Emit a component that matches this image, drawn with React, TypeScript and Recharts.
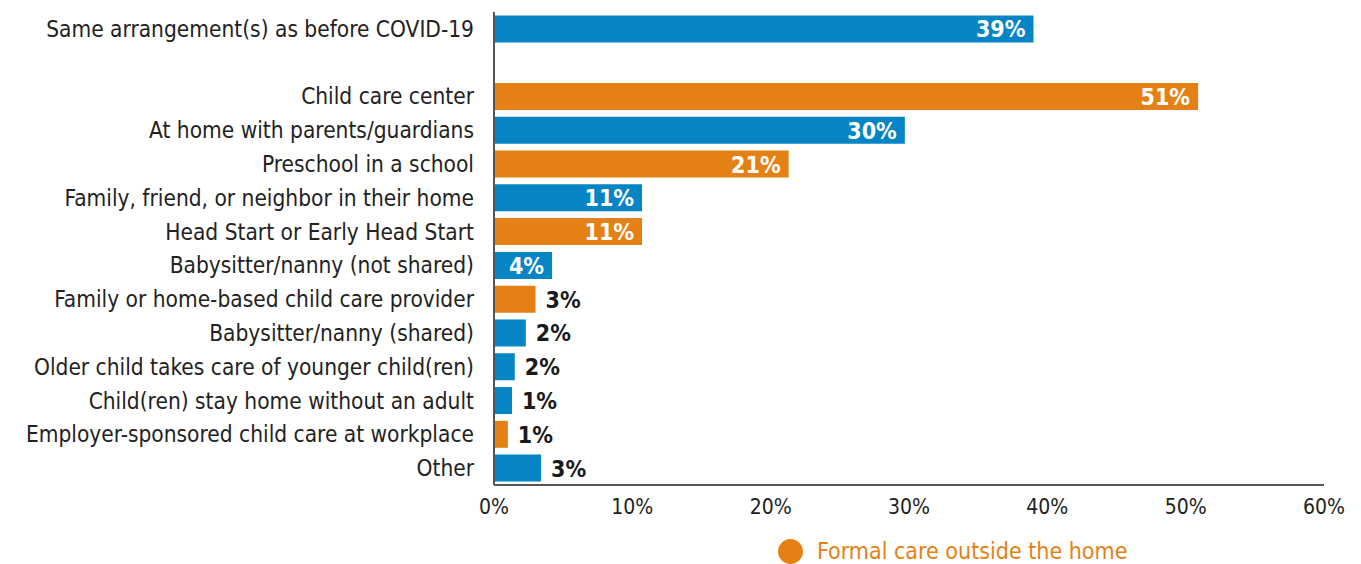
import React from 'react';
import { BarChart, Bar, XAxis, YAxis, Cell, LabelList } from 'recharts';

const categories = [
  'Same arrangement(s) as before COVID-19',
  '',
  'Child care center',
  'At home with parents/guardians',
  'Preschool in a school',
  'Family, friend, or neighbor in their home',
  'Head Start or Early Head Start',
  'Babysitter/nanny (not shared)',
  'Family or home-based child care provider',
  'Babysitter/nanny (shared)',
  'Older child takes care of younger child(ren)',
  'Child(ren) stay home without an adult',
  'Employer-sponsored child care at workplace',
  'Other',
];

const values = [39, null, 50.9, 29.7, 21.3, 10.7, 10.7, 4.2, 3.0, 2.3, 1.5, 1.3, 1.0, 3.4];

// true = formal care outside the home (orange)
const formal = [false, false, true, false, true, false, true, false, true, false, false, false, true, false];

const xTicks = [0, 10, 20, 30, 40, 50, 60];

const BLUE = '#0585c3';
const ORANGE = '#e58114';
const FONT = '"DejaVu Sans Condensed", "Liberation Sans Narrow", sans-serif';

const data = categories.map((name, i) => ({ name, value: values[i], formal: formal[i] }));

const renderLabel = (props: any) => {
  const { x, y, width, height, value } = props;
  if (value == null) return null;
  const inside = value >= 4;
  return (
    <text
      x={inside ? x + width - 8 : x + width + 10}
      y={y + height / 2 + 2}
      textAnchor={inside ? 'end' : 'start'}
      dominantBaseline="middle"
      fill={inside ? '#fff' : '#1a1a1a'}
      fontSize={23}
      fontWeight="bold"
      fontFamily={FONT}
    >
      {`${Math.round(value)}%`}
    </text>
  );
};

export default function App() {
  return (
    <div style={{ position: 'absolute', left: 0, top: 0, width: 1361, height: 564, background: '#fff' }}>
      <BarChart
        width={1361}
        height={564}
        data={data}
        layout="vertical"
        margin={{ top: 12, right: 37, left: 0, bottom: 49 }}
        barCategoryGap={3.4}
      >
        <XAxis
          type="number"
          domain={[0, 60]}
          ticks={xTicks}
          tickFormatter={(v) => `${v}%`}
          tick={{ fontSize: 21, fill: '#222', fontFamily: FONT }}
          tickLine={false}
          tickSize={0}
          tickMargin={14}
          height={30}
          axisLine={{ stroke: '#555', strokeWidth: 2 }}
        />
        <YAxis
          type="category"
          dataKey="name"
          width={494}
          interval={0}
          tick={{ fontSize: 22.5, fill: '#222', fontFamily: FONT }}
          tickLine={false}
          tickSize={0}
          tickMargin={20}
          axisLine={{ stroke: '#555', strokeWidth: 2 }}
        />
        <Bar dataKey="value" isAnimationActive={false}>
          {data.map((d, i) => (
            <Cell key={i} fill={d.formal ? ORANGE : BLUE} />
          ))}
          <LabelList dataKey="value" content={renderLabel} />
        </Bar>
      </BarChart>
      <div
        style={{
          position: 'absolute',
          left: 778,
          top: 538,
          display: 'flex',
          alignItems: 'center',
          fontFamily: FONT,
          fontSize: 23,
          color: ORANGE,
          whiteSpace: 'nowrap',
        }}
      >
        <span
          style={{ display: 'inline-block', width: 25, height: 25, borderRadius: 13, background: ORANGE, marginRight: 14 }}
        />
        Formal care outside the home
      </div>
    </div>
  );
}
